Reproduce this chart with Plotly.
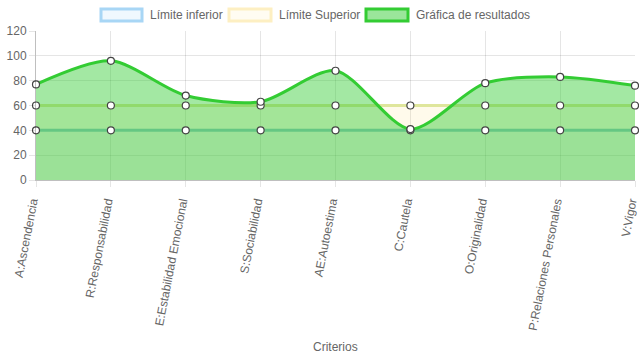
import plotly.graph_objects as go

categorias = ["A:Ascendencia", "R:Responsabilidad", "E:Estabilidad Emocional",
              "S:Sociabilidad", "AE:Autoestima", "C:Cautela", "O:Originalidad",
              "P:Relaciones Personales", "V:Vigor"]
limite_inferior = [40, 40, 40, 40, 40, 40, 40, 40, 40]
limite_superior = [60, 60, 60, 60, 60, 60, 60, 60, 60]
resultados = [77, 96, 68, 63, 88, 41, 78, 83, 76]
y_ticks = [0, 20, 40, 60, 80, 100, 120]
nombres = ["Límite inferior", "Límite Superior", "Gráfica de resultados"]

FONT = "Liberation Sans, Arial, sans-serif"
W, H = 639, 360
L, R, T, B = 36, 4, 31, 180
PW, PH = W - L - R, H - T - B


def px(x):
    return (x - L) / PW


def py(y):
    return (H - B - y) / PH


fig = go.Figure()

series = [
    (nombres[0], limite_inferior, "rgba(54,162,235,0.08)", "#80c2d4", "#a8d6f5", "rgba(154,208,245,0.15)"),
    (nombres[1], limite_superior, "rgba(255,215,90,0.12)", "#dfe69c", "#fdefc2", "rgba(255,240,190,0.2)"),
    (nombres[2], resultados, "rgba(50,205,50,0.45)", "#33cc33", "#33cc33", "#9ae69a"),
]

for name, vals, fillc, linec, legc, legfill in series:
    fig.add_trace(go.Scatter(
        x=categorias, y=vals, name=name, mode="lines",
        line=dict(color=linec, width=3, shape="spline", smoothing=0.8),
        fill="tozeroy", fillcolor=fillc, showlegend=False, hoverinfo="skip",
    ))

for name, vals, fillc, linec, legc, legfill in series:
    fig.add_trace(go.Scatter(
        x=categorias, y=vals, name=name, mode="markers", showlegend=False, cliponaxis=False,
        marker=dict(size=7, color="white", line=dict(color="#444", width=1.2)),
    ))

# custom legend (boxes + labels) like the reference
leg_boxes = [(101, 142), (229, 271), (366, 408)]
leg_text_x = [148, 277, 414]
shapes = []
annotations = []
for (x0, x1), tx, (name, vals, fillc, linec, legc, legfill) in zip(leg_boxes, leg_text_x, series):
    shapes.append(dict(type="rect", xref="paper", yref="paper",
                       x0=px(x0), x1=px(x1), y0=py(21), y1=py(9),
                       line=dict(color=legc, width=3), fillcolor=legfill))
    annotations.append(dict(text=name, xref="paper", yref="paper", x=px(tx), y=py(15),
                            xanchor="left", yanchor="middle", showarrow=False,
                            font=dict(size=12, color="#666", family=FONT)))
annotations.append(dict(text="Criterios", xref="paper", yref="paper", x=px(335.5), y=py(347),
                        xanchor="center", yanchor="middle", showarrow=False,
                        font=dict(size=12, color="#666", family=FONT)))

fig.update_layout(
    width=W, height=H,
    margin=dict(l=L, r=R, t=T, b=B, autoexpand=False),
    paper_bgcolor="white", plot_bgcolor="white",
    font=dict(family=FONT, size=12, color="#666"),
    showlegend=False,
    shapes=shapes, annotations=annotations,
    xaxis=dict(
        type="category", range=[0, 8], tickangle=-79, automargin=False,
        ticklabelshift=-4, ticklabelstandoff=3,
        showgrid=True, gridcolor="rgba(0,0,0,0.1)",
        ticks="outside", ticklen=6, tickcolor="rgba(0,0,0,0.1)",
        showline=True, linecolor="rgba(0,0,0,0.25)",
        tickfont=dict(size=12, color="#666"),
    ),
    yaxis=dict(
        range=[0, 120], tickvals=y_ticks, automargin=False,
        showgrid=True, gridcolor="rgba(0,0,0,0.1)",
        ticks="outside", ticklen=6, tickcolor="rgba(0,0,0,0.1)",
        showline=True, linecolor="rgba(0,0,0,0.25)", zeroline=False,
        tickfont=dict(size=12, color="#666"),
    ),
)

fig.write_html("out.html", config={"displayModeBar": False},
               post_script="document.body.style.margin='0';")
